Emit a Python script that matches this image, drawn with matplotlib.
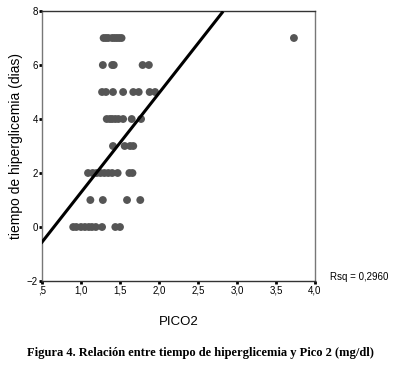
import numpy as np
import matplotlib
matplotlib.use('Agg')
import matplotlib.pyplot as plt

# PICO2 values, grouped by days of hyperglycemia
pico_7 = [1.29, 1.32, 1.35, 1.40, 1.43, 1.46, 1.49, 1.52, 3.73]
pico_6 = [1.28, 1.40, 1.42, 1.79, 1.87]
pico_5 = [1.27, 1.32, 1.41, 1.54, 1.67, 1.74, 1.88, 1.95]
pico_4 = [1.33, 1.37, 1.40, 1.44, 1.48, 1.54, 1.65, 1.77]
pico_3 = [1.41, 1.56, 1.63, 1.67]
pico_2 = [1.09, 1.15, 1.20, 1.25, 1.30, 1.35, 1.40, 1.47, 1.62, 1.66]
pico_1 = [1.12, 1.28, 1.59, 1.76]
pico_0 = [0.90, 0.94, 1.00, 1.05, 1.10, 1.14, 1.19, 1.27, 1.44, 1.50]
dias = [7, 6, 5, 4, 3, 2, 1, 0]

fit_intercept = -2.40
fit_slope = 3.68
fit_range = [0.5, 2.81]
rsq_text = 'Rsq = 0,2960'

xticks = [0.5, 1.0, 1.5, 2.0, 2.5, 3.0, 3.5, 4.0]
xticklabels = [',5', '1,0', '1,5', '2,0', '2,5', '3,0', '3,5', '4,0']
yticks = [-2, 0, 2, 4, 6, 8]

groups = [pico_7, pico_6, pico_5, pico_4, pico_3, pico_2, pico_1, pico_0]
x = np.concatenate([np.array(g) for g in groups])
y = np.concatenate([np.full(len(g), d) for g, d in zip(groups, dias)])

plt.rcParams['font.family'] = ['Liberation Sans', 'DejaVu Sans']
fig = plt.figure(figsize=(4.0, 3.77), dpi=100)
ax = fig.add_axes([0.105, 0.2546, 0.6825, 0.7162])

ax.scatter(x, y, s=32, color='#555555', edgecolors='none', zorder=3)
xl = np.array(fit_range)
ax.plot(xl, fit_intercept + fit_slope * xl, color='black', lw=2.2, zorder=4)

ax.set_xlim(0.5, 4.0)
ax.set_ylim(-2, 8)
ax.set_xticks(xticks)
ax.set_xticklabels(xticklabels)
ax.set_yticks(yticks)
ax.tick_params(length=2, width=2, labelsize=7, pad=1, colors='black')
for s in ['top', 'bottom']:
    ax.spines[s].set_color('#333333')
for s in ['left', 'right']:
    ax.spines[s].set_color('#777777')
for s in ax.spines.values():
    s.set_linewidth(1)

ax.set_xlabel('PICO2', fontsize=9.5, labelpad=15)
ax.set_ylabel('tiempo de hiperglicemia (dias)', fontsize=10, labelpad=3)
fig.text(0.825, 0.265, rsq_text, fontsize=7, ha='left', va='center')
fig.text(0.5, 0.063, 'Figura 4. Relación entre tiempo de hiperglicemia y Pico 2 (mg/dl)',
         fontsize=9, fontweight='bold', family='Liberation Serif', ha='center', va='center')

fig.savefig('out.png', dpi=100)
